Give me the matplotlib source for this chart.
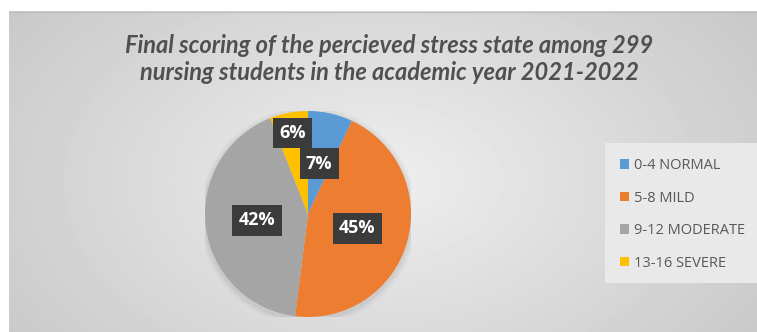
import numpy as np
import matplotlib
matplotlib.use("Agg")
import matplotlib.pyplot as plt
from matplotlib.patches import Rectangle

# Stress score categories and share of students (%)
categories = ["0-4 NORMAL", "5-8 MILD", "9-12 MODERATE", "13-16 SEVERE"]
shares = [7, 45, 42, 6]
colors = ["#5B9BD5", "#ED7D31", "#A5A5A5", "#FFC000"]
title = "Final scoring of the percieved stress state among 299\nnursing students in the academic year 2021-2022"

W, H = 757, 332
fig = plt.figure(figsize=(W / 100, H / 100), dpi=100)
fig.patch.set_facecolor("white")

# gray radial gradient background of the chart area
bg = fig.add_axes([9 / W, 0, 1 - 9 / W, 1 - 11 / H])
bg.set_axis_off()
yy, xx = np.mgrid[0:321, 0:748]
d = np.sqrt(((xx - 370) / 520.0) ** 2 + ((yy - 170) / 330.0) ** 2)
shade = np.clip(0.935 - 0.17 * d, 0.76, 0.94)
bg.imshow(shade, cmap="gray", vmin=0, vmax=1, aspect="auto", interpolation="bilinear")
bg.plot([0, 747], [0.5, 0.5], color="#bfbfbf", lw=1)

fig.text(389 / W, 1 - 59 / H, title, ha="center", va="center", fontsize=17, fontweight="bold",
         style="italic", color="#505050", family="Lato", linespacing=1.2)

# pie
cx, cy, r = 308, 214, 103
ax = fig.add_axes([(cx - r) / W, (H - cy - r) / H, 2 * r / W, 2 * r / H])
for k, a in [(1.06, 0.05), (1.04, 0.07), (1.02, 0.09)]:
    ax.add_patch(plt.Circle((0, -0.02), k, color="#808080", alpha=a, lw=0))
wedges, texts, autotexts = ax.pie(shares, colors=colors, startangle=90, counterclock=False,
                                  autopct="%d%%", pctdistance=0.5, radius=1,
                                  wedgeprops=dict(linewidth=0))
autotexts[3].set_position(np.array(autotexts[3].get_position()) * 0.8 / 0.5)
for t in autotexts:
    t.set_color("white")
    t.set_fontsize(13)
    t.set_fontweight("bold")
    t.set_family("Open Sans")
    t.set_bbox(dict(boxstyle="square,pad=0.35", facecolor="#3b3b3b", edgecolor="none"))
ax.set_xlim(-1, 1)
ax.set_ylim(-1, 1)
ax.set_aspect("equal")

# legend box
fig.patches.append(Rectangle((605 / W, (H - 283) / H), 160 / W, 140 / H,
                             transform=fig.transFigure, facecolor="#e9e9e9",
                             edgecolor="none", zorder=0.5))
handles = [Rectangle((0, 0), 1, 1, facecolor=c, edgecolor="none") for c in colors]
leg = fig.legend(handles, categories, loc="upper left", bbox_to_anchor=(607 / W, 1 - 145 / H),
                 frameon=False, labelspacing=1.2, handlelength=0.6,
                 handleheight=0.6, handletextpad=0.35, prop={"family": "Open Sans", "size": 10.5})
for t in leg.get_texts():
    t.set_color("#595959")

fig.savefig("out.png", dpi=100)
